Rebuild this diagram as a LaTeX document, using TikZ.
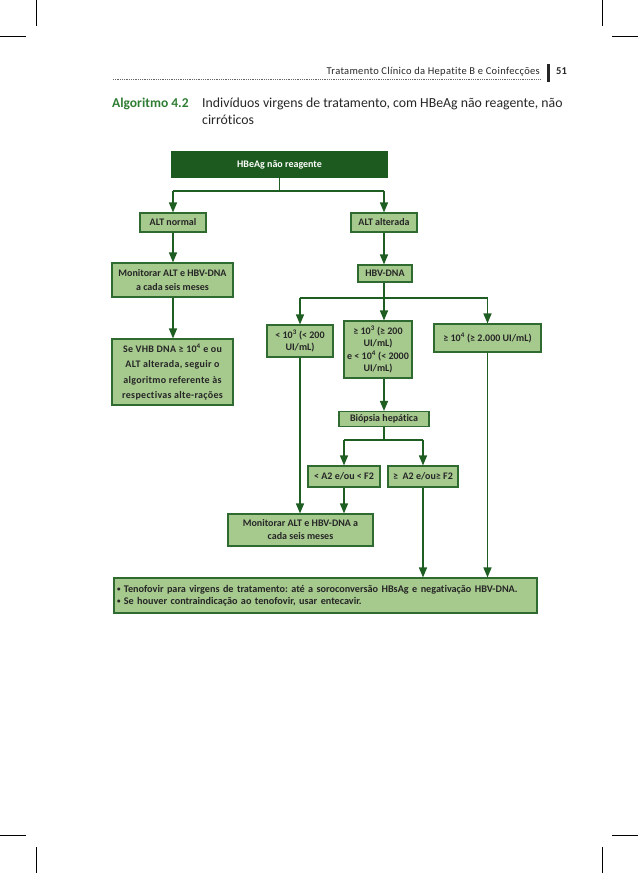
\documentclass[tikz,border=0pt]{standalone}
\usepackage{fontspec}
\setmainfont{Carlito}[Ligatures={NoCommon}]
\usetikzlibrary{arrows.meta}
\definecolor{dg}{HTML}{1F5E22}
\definecolor{bfill}{HTML}{A6C98E}
\definecolor{bdraw}{HTML}{2F6A30}
\definecolor{hfill}{HTML}{1D5A1F}
\definecolor{tgreen}{HTML}{2E7D32}
\definecolor{txt}{HTML}{262626}
\newcommand{\smallbul}{\raisebox{0.5pt}{\fontsize{7}{7}\selectfont•}}
\frenchspacing
\begin{document}
\begin{tikzpicture}[x=1pt,y=-1pt,
 box/.style={draw=bdraw, line width=1.1pt, fill=bfill, text=txt, font=\fontsize{10}{12}\selectfont\bfseries, align=center, inner sep=0pt},
 conn/.style={draw=dg, line width=1.4pt},
 arr/.style={conn, -{Triangle[width=8pt,length=10pt]}},
 crop/.style={line width=0.8pt, draw=black}]
\useasboundingbox (0,0) rectangle (638,873);
% crop marks
\draw[crop] (36,0) -- (36,26);
\draw[crop] (0,36) -- (26,36);
\draw[crop] (602,0) -- (602,26);
\draw[crop] (612,36) -- (638,36);
\draw[crop] (0,835) -- (26,835);
\draw[crop] (36,847) -- (36,873);
\draw[crop] (612,835) -- (638,835);
\draw[crop] (602,847) -- (602,873);
% header
\node[anchor=base east, font=\fontsize{10.5}{12}\selectfont\addfontfeature{LetterSpace=3}, text=txt, inner sep=0pt] (hdr) at (540,74) {Tratamento Clínico da Hepatite B e Coinfecções};
\draw[line width=0.6pt, draw=black!60, dash pattern=on 0.6pt off 1.2pt] (113,79) -- (541,79);
\fill[black!85] (546.5,64) rectangle (550,82);
\node[anchor=base west, font=\fontsize{10.5}{12}\selectfont\bfseries, text=txt, inner sep=0pt] (pg) at (556,74) {51};
% title
\node[anchor=base west, font=\fontsize{13.5}{15}\selectfont\bfseries, text=tgreen, inner sep=0pt] (alg) at (112,107) {Algoritmo 4.2};
\node[anchor=base west, font=\fontsize{13.8}{15}\selectfont, text=txt, inner sep=0pt] (ttl1) at (202,107) {Indivíduos virgens de tratamento, com HBeAg não reagente, não};
\node[anchor=base west, font=\fontsize{13.8}{15}\selectfont, text=txt, inner sep=0pt] (ttl2) at (202,124) {cirróticos};
% boxes
\node[box, fill=hfill, draw=hfill, text=white, minimum width=215, minimum height=25] (top) at (279.5,164.5) {HBeAg não reagente};
\node[box, minimum width=66, minimum height=19] (altn) at (173,222.5) {ALT normal};
\node[box, minimum width=66, minimum height=19] (alta) at (384,222.5) {ALT alterada};
\node[box, minimum width=121, minimum height=34, font=\fontsize{10}{14.5}\selectfont\bfseries] (mon1) at (172.5,280) {Monitorar ALT e HBV-DNA\\a cada seis meses};
\node[box, minimum width=54, minimum height=17] (hbv) at (385,273.5) {HBV-DNA};
\node[box, minimum width=66, minimum height=32, font=\fontsize{10}{12}\selectfont\bfseries] (low) at (300,341) {< 10\textsuperscript{3} (< 200\\UI/mL)};
\node[box, minimum width=68, minimum height=57, font=\fontsize{10}{12.5}\selectfont\bfseries] (mid) at (378,349.5) {≥ 10\textsuperscript{3} (≥ 200\\UI/mL)\\e < 10\textsuperscript{4} (< 2000\\UI/mL)};
\node[box, minimum width=107, minimum height=28] (right) at (487.5,338) {≥ 10\textsuperscript{4} (≥ 2.000 UI/mL)};
\node[box, minimum width=121, minimum height=66, font=\fontsize{10}{15.5}\selectfont\bfseries\addfontfeature{LetterSpace=3}] (se) at (172.5,372) {Se VHB DNA ≥ 10\textsuperscript{4} e ou\\ALT alterada, seguir o\\algoritmo referente às\\respectivas alte-rações};
\node[box, minimum width=90, minimum height=15] (biop) at (384,419) {Biópsia hepática};
\node[box, minimum width=72, minimum height=21] (a2l) at (344,476.5) {< A2 e/ou < F2};
\node[box, minimum width=70, minimum height=21] (a2g) at (423,476.5) {≥\ \ A2 e/ou≥ F2};
\node[box, minimum width=145, minimum height=32, font=\fontsize{10}{13}\selectfont\bfseries] (mon2) at (300.5,530) {Monitorar ALT e HBV-DNA a\\cada seis meses};
\node[box, minimum width=423, minimum height=35, text width=417, align=left, font=\fontsize{10.2}{12}\selectfont\bfseries] (fin) at (325.5,595.5) {\smallbul\ Tenofovir para virgens de tratamento: até a soroconversão HBsAg e negativação HBV-DNA.\\\smallbul\ Se houver contraindicação ao tenofovir, usar entecavir.};
% junctions
\coordinate (j0) at (279.5,191);
\coordinate (j1) at (384,298);
\coordinate (j2) at (384,440);
% connectors
\draw[conn] (top.south -| j0) -- (j0);
\draw[conn] (altn.north |- j0) -- (alta.north |- j0);
\draw[arr] (altn.north |- j0) -- (altn.north);
\draw[arr] (alta.north |- j0) -- (alta.north);
\draw[arr] (altn.south) -- (mon1.north -| altn.south);
\draw[arr] (alta.south) -- (hbv.north -| alta.south);
\draw[arr] (mon1.south -| altn.south) -- (se.north -| altn.south);
\draw[conn] (hbv.south -| j1) -- (j1);
\draw[conn] (low.north |- j1) -- (right.north |- j1);
\draw[arr] (low.north |- j1) -- (low.north);
\draw[arr] (j1) -- (j1 |- mid.north);
\draw[arr] (right.north |- j1) -- (right.north);
\draw[arr] (j1 |- mid.south) -- (biop.north);
\draw[conn] (biop.south) -- (j2);
\draw[conn] (a2l.north |- j2) -- (a2g.north |- j2);
\draw[arr] (a2l.north |- j2) -- (a2l.north);
\draw[arr] (a2g.north |- j2) -- (a2g.north);
\draw[arr] (low.south) -- (low.south |- mon2.north);
\draw[arr] (a2l.south) -- (a2l.south |- mon2.north);
\draw[arr] (a2g.south) -- (a2g.south |- fin.north);
\draw[arr] (right.south) -- (right.south |- fin.north);
\end{tikzpicture}
\end{document}
